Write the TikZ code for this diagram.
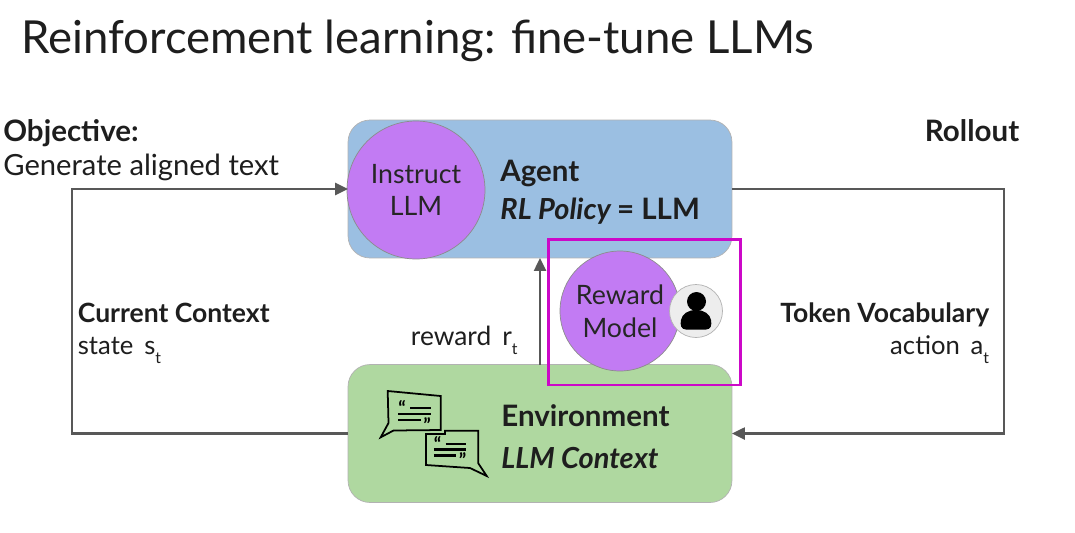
\documentclass[tikz,border=0pt]{standalone}
\usepackage{fontspec}
\usetikzlibrary{arrows.meta}
\setmainfont{Lato}
\definecolor{agentblue}{HTML}{9BBFE2}
\definecolor{envgreen}{HTML}{AFD8A0}
\definecolor{llmpurple}{HTML}{C27BF3}
\definecolor{framepink}{HTML}{CC08C8}
\definecolor{flowgray}{HTML}{585858}
\definecolor{inkblack}{HTML}{1E1E1E}
\newcommand{\lowt}{\raisebox{-0.7ex}{\small t}}
\begin{document}
\begin{tikzpicture}[x=0.02cm,y=-0.02cm,
bodytext/.style={font=\fontsize{14.6}{18}\selectfont,text=inkblack,inner sep=0pt},
boldtext/.style={bodytext,font=\fontsize{15.1}{18}\selectfont\bfseries},
headtext/.style={bodytext,font=\fontsize{16.8}{20}\selectfont\bfseries},
bigtext/.style={bodytext,font=\fontsize{16.8}{20}\selectfont\bfseries},
bigslant/.style={bodytext,font=\fontsize{16.5}{20}\selectfont\bfseries\itshape},
roundbox/.style={draw=black!30,rounded corners=0.44cm,minimum width=7.68cm,minimum height=2.76cm,outer sep=0pt},
llmcircle/.style={circle,draw=black!45,fill=llmpurple,align=center,inner sep=0pt,text=black!85,font=\fontsize{15.2}{18.5}\selectfont},
flow/.style={draw=flowgray,line width=1.4pt,-{Triangle[length=0.26cm,width=0.24cm]}},
bubble/.style={draw=black,line width=1pt,line join=miter,fill=envgreen},
bubbleline/.style={draw=black,line width=1.2pt},
quotemark/.style={inner sep=0pt,font=\fontsize{11}{11}\selectfont\bfseries}]
\useasboundingbox (0,0) rectangle (1075,532);
\fill[white] (0,0) rectangle (1075,532);
\node[anchor=base west,inner sep=0pt,text=inkblack,font=\fontsize{25.9}{30}\selectfont] (title) at (21,53) {Reinforcement learning: fine-tune LLMs};
\node[roundbox,fill=agentblue] (agent) at (540,189) {};
\node[roundbox,fill=envgreen] (env) at (540,433.5) {};
\node[llmcircle,minimum size=2.76cm] (instruct) at (416,190) {Instruct\\LLM};
\node[bigtext,anchor=base west] (agentname) at (500,181) {Agent};
\node[bigslant,anchor=base west] (policy) at (500,219) {RL Policy {\upshape\fontsize{16.8}{20}\selectfont = LLM}};
\node[bigtext,anchor=base west] (envname) at (501,426) {Environment};
\node[bigslant,anchor=base west] (envctx) at (501,468) {LLM Context};
\node[headtext,anchor=base west] (objective) at (3,141) {Objective:};
\node[bodytext,font=\fontsize{16.6}{20}\selectfont,anchor=base west] (aligned) at (3,175.5) {Generate aligned text};
\node[headtext,anchor=base east] (rollout) at (1019.5,141) {Rollout};
\node[boldtext,anchor=base west] (context) at (77.5,322.5) {Current Context};
\node[bodytext,anchor=base west] (state) at (77.5,354) {state\, s\lowt};
\node[boldtext,anchor=base east] (token) at (989.5,322.5) {Token Vocabulary};
\node[bodytext,anchor=base east] (action) at (989.5,354) {action\, a\lowt};
\node[bodytext,font=\fontsize{15}{18}\selectfont,anchor=base east] (rewardr) at (518,345) {reward\, r\lowt};
\coordinate (rightbend) at (1004,189);
\coordinate (leftbend) at (72,189);
\coordinate (rewardx) at (540,300);
\draw[flow] (agent.east) -- (rightbend) -- (rightbend |- env.east) -- (env.east);
\draw[flow] (env.west) -- (leftbend |- env.west) -- (leftbend) -- (agent.west);
\draw[flow] (rewardx |- env.north) -- (rewardx |- agent.south);
\node[llmcircle,minimum size=2.4cm] (reward) at (620,311) {Reward\\Model};
\node[circle,draw=black!30,fill=black!7,minimum size=1.06cm,inner sep=0pt] (person) at (696,311) {};
\fill[black] (696.5,301.5) circle (9.5);
\fill[black] (686,329.5) .. controls (681,329.5) and (680,325) .. (681,320) .. controls (682,314) and (688,310) .. (696,310) .. controls (704,310) and (710,314) .. (711,320) .. controls (712,325) and (711,329.5) .. (706,329.5) -- cycle;
\draw[bubble] (387.7,391) -- (440.7,396) -- (440.7,430) -- (393.5,430.5) -- (380.7,437.3) -- (388.5,423) -- cycle;
\draw[bubble] (426,434) -- (445,434) -- (445,430.7) -- (478.3,430.7) -- (478.3,463.3) -- (486.7,476) -- (470,468) -- (426,465) -- cycle;
\foreach \ox/\oy in {0/0,35.5/35.5} {
\draw[bubbleline] (410+\ox,408.3+\oy) -- (430.7+\ox,408.3+\oy);
\draw[bubbleline] (398.3+\ox,414+\oy) -- (430.7+\ox,414+\oy);
\draw[bubbleline] (398.3+\ox,420+\oy) -- (420.7+\ox,420+\oy);
\node[quotemark] at (402+\ox,408+\oy) {“};
\node[quotemark] at (427+\ox,425+\oy) {”};
}
\node[draw=framepink,line width=1.7pt,minimum width=3.86cm,minimum height=2.92cm,inner sep=0pt] (frame) at (644.5,312) {};
\end{tikzpicture}
\end{document}
